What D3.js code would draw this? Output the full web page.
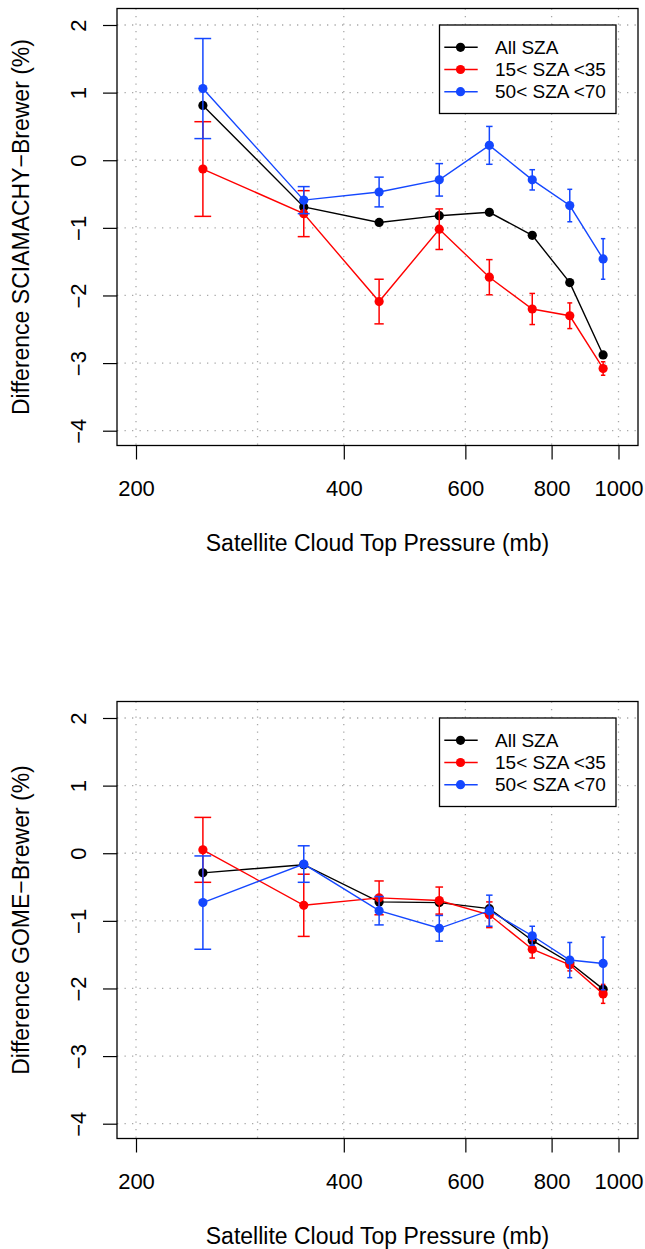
<!DOCTYPE html>
<html>
<head>
<meta charset="utf-8">
<script src="https://cdn.jsdelivr.net/npm/d3@7"></script>
<style>
  body { margin: 0; background: #fff; }
  text { font-family: "Liberation Sans", Arial, Helvetica, sans-serif; fill: #000; }
</style>
</head>
<body>
<div id="chart"></div>
<script>
// cloud top pressure bins (mb)
const pressure = [250, 350, 450, 550, 650, 750, 850, 950];
const xTickValues = [200, 400, 600, 800, 1000];
const xGridValues = [200, 300, 400, 600, 800, 1000];
const yTickValues = [-4, -3, -2, -1, 0, 1, 2];
const seriesNames = ["All SZA", "15< SZA <35", "50< SZA <70"];

// SCIAMACHY - Brewer
const sciaAll = [0.81, -0.69, -0.92, -0.82, -0.77, -1.11, -1.81, -2.88];
const sciaLow = [-0.13, -0.79, -2.09, -1.02, -1.73, -2.20, -2.30, -3.08];
const sciaLowErr = [0.70, 0.34, 0.33, 0.30, 0.26, 0.23, 0.19, 0.10];
const sciaHigh = [1.06, -0.59, -0.47, -0.29, 0.22, -0.29, -0.67, -1.46];
const sciaHighErr = [0.74, 0.20, 0.22, 0.24, 0.28, 0.15, 0.24, 0.30];

// GOME - Brewer
const gomeAll = [-0.29, -0.17, -0.72, -0.73, -0.82, -1.29, -1.62, -2.01];
const gomeLow = [0.05, -0.77, -0.66, -0.70, -0.91, -1.42, -1.65, -2.08];
const gomeLowErr = [0.48, 0.46, 0.25, 0.20, 0.19, 0.13, 0.09, 0.14];
const gomeHigh = [-0.73, -0.16, -0.85, -1.11, -0.85, -1.22, -1.58, -1.63];
const gomeHighErr = [0.69, 0.27, 0.21, 0.19, 0.23, 0.14, 0.26, 0.39];

const colors = ["#000000", "#ff0000", "#1447ff"];

const width = 645;
const height = 1249;
const boxLeft = 117;
const boxRight = 638;
const capHalf = 7; // error bar cap half width, in mb

const svg = d3.select("#chart")
    .append("svg")
    .attr("width", width)
    .attr("height", height);

svg.append("rect")
    .attr("width", width)
    .attr("height", height)
    .attr("fill", "#fff");

function drawPanel(top, yTitle, series) {
    const g = svg.append("g")
        .attr("transform", `translate(0, ${top})`);

    const boxTop = 8.5;
    const boxBottom = 445.5;

    const x = d3.scaleLog()
        .domain([200, 1000])
        .range([136, 618.5]);

    const y = d3.scaleLinear()
        .domain([-4, 2])
        .range([430.7, 25]);

    // dotted grid
    g.selectAll(".vgrid")
        .data(xGridValues)
        .enter()
        .append("line")
        .attr("x1", d => x(d))
        .attr("x2", d => x(d))
        .attr("y1", boxTop)
        .attr("y2", boxBottom)
        .attr("stroke", "#a8a8a8")
        .attr("stroke-width", 1.3)
        .attr("stroke-dasharray", "1.3,6.2");

    g.selectAll(".hgrid")
        .data(yTickValues)
        .enter()
        .append("line")
        .attr("x1", boxLeft)
        .attr("x2", boxRight)
        .attr("y1", d => y(d))
        .attr("y2", d => y(d))
        .attr("stroke", "#a8a8a8")
        .attr("stroke-width", 1.3)
        .attr("stroke-dasharray", "1.3,6.2");

    // y axis
    const yAxis = g.append("g")
        .attr("transform", `translate(${boxLeft}, 0)`)
        .call(d3.axisLeft(y).tickValues(yTickValues).tickFormat(d3.format("d")).tickSize(14).tickSizeOuter(0));
    yAxis.select(".domain").remove();
    yAxis.selectAll("line").attr("stroke", "#000").attr("stroke-width", 1.2);
    yAxis.selectAll("text")
        .attr("x", null)
        .attr("dy", "0.35em")
        .attr("transform", "translate(-39, 0) rotate(-90)")
        .style("text-anchor", "middle")
        .style("font-size", "22px");

    // x axis
    const xAxis = g.append("g")
        .attr("transform", `translate(0, ${boxBottom})`)
        .call(d3.axisBottom(x).tickValues(xTickValues).tickFormat(d3.format("d")).tickSize(14).tickSizeOuter(0));
    xAxis.select(".domain").remove();
    xAxis.selectAll("line").attr("stroke", "#000").attr("stroke-width", 1.2);
    xAxis.selectAll("text")
        .attr("y", 43)
        .attr("dy", "0.35em")
        .style("font-size", "22px");

    g.append("text")
        .attr("x", (boxLeft + boxRight) / 2)
        .attr("y", 542.5)
        .attr("dy", "0.35em")
        .attr("text-anchor", "middle")
        .style("font-size", "23px")
        .text("Satellite Cloud Top Pressure (mb)");

    g.append("text")
        .attr("transform", `translate(20.5, ${(boxTop + boxBottom) / 2}) rotate(-90)`)
        .attr("dy", "0.35em")
        .attr("text-anchor", "middle")
        .style("font-size", "23px")
        .text(yTitle);

    const line = d3.line()
        .x(d => x(d.p))
        .y(d => y(d.v));

    series.forEach((s, i) => {
        const pts = pressure.map((p, j) => ({ p: p, v: s.values[j], e: s.err ? s.err[j] : 0 }));
        const sg = g.append("g");

        if (s.err) {
            sg.selectAll(".bar")
                .data(pts)
                .enter()
                .append("line")
                .attr("x1", d => x(d.p))
                .attr("x2", d => x(d.p))
                .attr("y1", d => y(d.v - d.e))
                .attr("y2", d => y(d.v + d.e))
                .attr("stroke", colors[i])
                .attr("stroke-width", 1.5);
            // caps top and bottom
            [1, -1].forEach(sign => {
                sg.selectAll(".cap" + sign)
                    .data(pts)
                    .enter()
                    .append("line")
                    .attr("x1", d => x(d.p - capHalf))
                    .attr("x2", d => x(d.p + capHalf))
                    .attr("y1", d => y(d.v + sign * d.e))
                    .attr("y2", d => y(d.v + sign * d.e))
                    .attr("stroke", colors[i])
                    .attr("stroke-width", 1.5);
            });
        }

        sg.append("path")
            .datum(pts)
            .attr("d", line)
            .attr("fill", "none")
            .attr("stroke", colors[i])
            .attr("stroke-width", 1.4);

        sg.selectAll("circle")
            .data(pts)
            .enter()
            .append("circle")
            .attr("cx", d => x(d.p))
            .attr("cy", d => y(d.v))
            .attr("r", 4.6)
            .attr("fill", colors[i]);
    });

    // plot box
    g.append("rect")
        .attr("x", boxLeft)
        .attr("y", boxTop)
        .attr("width", boxRight - boxLeft)
        .attr("height", boxBottom - boxTop)
        .attr("fill", "none")
        .attr("stroke", "#000")
        .attr("stroke-width", 1.3);

    // legend, top right
    const legend = g.append("g");
    legend.append("rect")
        .attr("x", 439.5)
        .attr("y", y(2))
        .attr("width", 176.5)
        .attr("height", 88.5)
        .attr("fill", "#fff")
        .attr("stroke", "#000")
        .attr("stroke-width", 1.3);

    seriesNames.forEach((name, i) => {
        const ly = y(2) + 22.3 + i * 22.2;
        legend.append("line")
            .attr("x1", 444.3)
            .attr("x2", 477.7)
            .attr("y1", ly)
            .attr("y2", ly)
            .attr("stroke", colors[i])
            .attr("stroke-width", 1.4);
        legend.append("circle")
            .attr("cx", 460.5)
            .attr("cy", ly)
            .attr("r", 4.6)
            .attr("fill", colors[i]);
        legend.append("text")
            .attr("x", 495)
            .attr("y", ly)
            .attr("dy", "0.35em")
            .style("font-size", "19px")
            .text(name);
    });
}

drawPanel(0, "Difference SCIAMACHY\u2212Brewer (%)", [
    { values: sciaAll },
    { values: sciaLow, err: sciaLowErr },
    { values: sciaHigh, err: sciaHighErr }
]);

drawPanel(693, "Difference GOME\u2212Brewer (%)", [
    { values: gomeAll },
    { values: gomeLow, err: gomeLowErr },
    { values: gomeHigh, err: gomeHighErr }
]);
</script>
</body>
</html>
